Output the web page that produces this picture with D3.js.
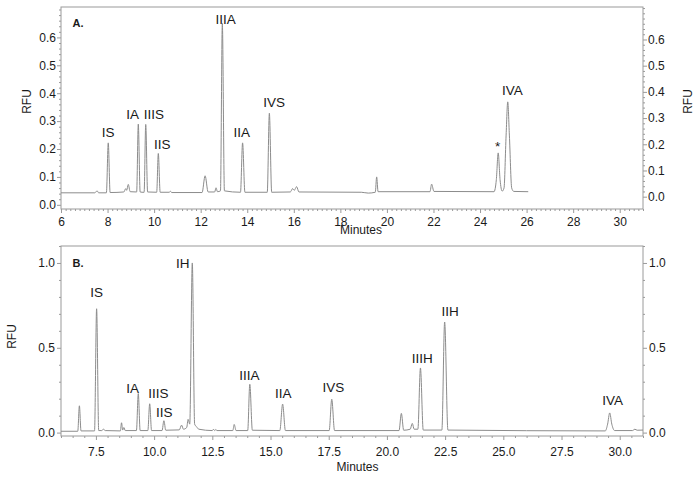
<!DOCTYPE html>
<html>
<head>
<meta charset="utf-8">
<script src="https://cdn.jsdelivr.net/npm/d3@7"></script>
<style>
  body { margin: 0; background: #fff; }
  text { font-family: "Liberation Sans", Arial, sans-serif; }
</style>
</head>
<body>
<svg id="chrom"></svg>
<script>
// ---- panel A trace (minutes, RFU) ----
const timeA = [6.0, 7.45, 7.55, 7.62, 7.95, 8.03, 8.11, 8.70, 8.78, 8.82, 8.89, 8.97,
  9.25, 9.32, 9.40, 9.48, 9.57, 9.64, 9.72, 10.11, 10.18, 10.26, 10.65, 10.70, 10.75,
  12.06, 12.19, 12.32, 12.60, 12.66, 12.72, 12.85, 12.93, 13.02, 13.71, 13.80, 13.90,
  14.86, 14.95, 15.05, 15.85, 15.95, 16.02, 16.12, 16.22, 18.9, 19.2, 19.5, 19.56, 19.62,
  21.85, 21.92, 22.02, 24.60, 24.70, 24.78, 24.86, 24.95, 25.03, 25.12, 25.19, 25.26, 25.36, 25.45, 26.07];
const rfuA = [0.043, 0.043, 0.050, 0.043, 0.043, 0.222, 0.044, 0.046, 0.058, 0.052, 0.073, 0.047,
  0.046, 0.289, 0.046, 0.045, 0.045, 0.288, 0.046, 0.045, 0.184, 0.045, 0.045, 0.049, 0.044,
  0.044, 0.104, 0.046, 0.046, 0.061, 0.047, 0.050, 0.650, 0.050, 0.045, 0.222, 0.045,
  0.045, 0.328, 0.045, 0.046, 0.058, 0.052, 0.065, 0.046, 0.045, 0.042, 0.045, 0.100, 0.047,
  0.047, 0.074, 0.048, 0.047, 0.090, 0.186, 0.090, 0.049, 0.060, 0.250, 0.369, 0.250, 0.060, 0.048, 0.047];

// ---- panel B trace ----
const timeB = [6.0, 6.72, 6.79, 6.86, 7.44, 7.53, 7.62, 7.75, 7.82, 7.90, 8.55, 8.60, 8.65, 8.70, 8.76,
  9.24, 9.32, 9.40, 9.73, 9.81, 9.89, 10.34, 10.42, 10.50, 11.08, 11.18, 11.26, 11.40, 11.46,
  11.53, 11.64, 11.74, 11.82, 11.92, 12.50, 12.55, 12.60, 12.65, 12.70, 13.38, 13.44, 13.52,
  14.02, 14.11, 14.22, 15.40, 15.52, 15.64, 17.52, 17.63, 17.75, 20.52, 20.62, 20.72,
  21.00, 21.09, 21.17, 21.33, 21.44, 21.56, 22.36, 22.48, 22.62, 29.38, 29.48, 29.57, 29.66, 29.78,
  30.55, 30.65, 30.75, 31.0];
const rfuB = [0.008, 0.008, 0.158, 0.010, 0.010, 0.730, 0.012, 0.012, 0.020, 0.012, 0.010, 0.058, 0.015, 0.030, 0.012,
  0.012, 0.230, 0.012, 0.012, 0.170, 0.012, 0.012, 0.070, 0.014, 0.016, 0.044, 0.020, 0.030, 0.078,
  0.050, 1.000, 0.050, 0.035, 0.020, 0.012, 0.020, 0.012, 0.018, 0.012, 0.012, 0.048, 0.012,
  0.012, 0.285, 0.014, 0.012, 0.168, 0.012, 0.012, 0.197, 0.012, 0.012, 0.113, 0.014,
  0.020, 0.054, 0.020, 0.020, 0.381, 0.015, 0.015, 0.652, 0.015, 0.010, 0.050, 0.116, 0.050, 0.012,
  0.012, 0.020, 0.014, 0.015];

// ---- peak labels (name, minutes, RFU of label baseline) ----
const labelA = ["IS", "IA", "IIIS", "IIS", "IIIA", "IIA", "IVS", "*", "IVA"];
const labelTimeA = [8.02, 9.08, 9.99, 10.35, 13.07, 13.76, 15.15, 24.76, 25.39];
const labelRfuA = [0.244, 0.306, 0.306, 0.200, 0.648, 0.244, 0.349, 0.194, 0.394];

const labelB = ["IS", "IA", "IIIS", "IIS", "IH", "IIIA", "IIA", "IVS", "IIIH", "IIH", "IVA"];
const labelTimeB = [7.53, 9.08, 10.18, 10.44, 11.23, 14.09, 15.55, 17.70, 21.52, 22.71, 29.70];
const labelRfuB = [0.798, 0.235, 0.202, 0.094, 0.969, 0.310, 0.202, 0.238, 0.409, 0.688, 0.163];

// ---- ticks ----
const ticksAx = [6, 8, 10, 12, 14, 16, 18, 20, 22, 24, 26, 28, 30];
const ticksAy = [0.0, 0.1, 0.2, 0.3, 0.4, 0.5, 0.6];
const ticksBx = [7.5, 10.0, 12.5, 15.0, 17.5, 20.0, 22.5, 25.0, 27.5, 30.0];
const ticksBy = [0.0, 0.5, 1.0];

const width = 697, height = 478;
const axisColor = "#9a9a9a", traceColor = "#8c8c8c", textColor = "#1a1a1a";

const svg = d3.select("#chrom").attr("width", width).attr("height", height);

function minors(lo, hi, step, majors)
{
    return d3.range(Math.round(lo / step), Math.round(hi / step) + 1)
        .map(i => +(i * step).toFixed(4))
        .filter(v => !majors.some(m => Math.abs(m - v) < 1e-6));
}

function styleAxis(g, size)
{
    g.select(".domain").remove();
    g.selectAll("line").attr("stroke", axisColor);
    g.selectAll("text").attr("fill", textColor).style("font-size", size);
}

function drawPanel(opt)
{
    const x = d3.scaleLinear().domain([6, 31]).range([61, 643]);
    const y = d3.scaleLinear().domain(opt.yDomain).range([opt.bottom, opt.top]);
    const g = svg.append("g");

    // x axis
    g.append("g").attr("transform", `translate(0,${opt.bottom})`)
        .call(d3.axisBottom(x).tickValues(minors(6, 31, opt.xMinor, opt.xTicks)).tickSize(2).tickFormat(""))
        .call(a => styleAxis(a, "12px"));
    g.append("g").attr("transform", `translate(0,${opt.bottom})`)
        .call(d3.axisBottom(x).tickValues(opt.xTicks).tickSize(4).tickPadding(opt.xPad).tickFormat(d3.format(opt.xFmt)))
        .call(a => styleAxis(a, "12px"));

    // left axis
    g.append("g").attr("transform", "translate(61,0)")
        .call(d3.axisLeft(y).tickValues(minors(0, opt.yDomain[1], opt.yMinor, opt.yTicks)).tickSize(2).tickFormat(""))
        .call(a => styleAxis(a, "12px"));
    g.append("g").attr("transform", "translate(61,0)")
        .call(d3.axisLeft(y).tickValues(opt.yTicks).tickSize(4).tickPadding(opt.yPadL).tickFormat(d3.format(".1f")))
        .call(a => styleAxis(a, "12px"));

    // right axis
    const yR = d3.scaleLinear().domain(opt.yRDomain).range([opt.bottom, opt.top]);
    g.append("g").attr("transform", "translate(643,0)")
        .call(d3.axisRight(yR).tickValues(minors(0, opt.yRDomain[1], opt.yMinor, opt.yTicks)).tickSize(2).tickFormat(""))
        .call(a => styleAxis(a, "12px"));
    g.append("g").attr("transform", "translate(643,0)")
        .call(d3.axisRight(yR).tickValues(opt.yTicks).tickSize(4).tickPadding(opt.yPadR).tickFormat(d3.format(".1f")))
        .call(a => styleAxis(a, "12px"));

    // frame
    g.append("rect")
        .attr("x", 61).attr("y", opt.top)
        .attr("width", 643 - 61).attr("height", opt.bottom - opt.top)
        .attr("fill", "none").attr("stroke", axisColor).attr("stroke-width", 1);

    // trace
    const pts = d3.zip(opt.time, opt.rfu);
    g.append("path")
        .datum(pts)
        .attr("fill", "none")
        .attr("stroke", traceColor)
        .attr("stroke-width", 1)
        .attr("d", d3.line().x(d => x(d[0])).y(d => y(d[1])).curve(d3.curveMonotoneX));

    // peak labels
    g.selectAll(".peak")
        .data(d3.zip(opt.labels, opt.labelTime, opt.labelRfu))
        .enter().append("text")
        .attr("class", "peak")
        .attr("x", d => x(d[1]))
        .attr("y", d => y(d[2]))
        .attr("text-anchor", "middle")
        .attr("fill", textColor)
        .style("font-size", "13.5px")
        .text(d => d[0]);

    // panel letter
    g.append("text")
        .attr("x", 72.5).attr("y", opt.letterY)
        .attr("fill", textColor)
        .style("font-size", "11px").style("font-weight", "bold")
        .text(opt.letter);

    // axis titles
    g.append("text")
        .attr("x", opt.minX).attr("y", opt.minY)
        .attr("text-anchor", "middle").attr("fill", textColor)
        .style("font-size", "12px")
        .text("Minutes");

    g.append("text")
        .attr("transform", `translate(${opt.rfuLX},${opt.rfuY}) rotate(-90)`)
        .attr("text-anchor", "middle").attr("fill", textColor)
        .style("font-size", "12px")
        .text("RFU");

    if (opt.rfuRX)
    {
        g.append("text")
            .attr("transform", `translate(${opt.rfuRX},${opt.rfuY}) rotate(-90)`)
            .attr("text-anchor", "middle").attr("fill", textColor)
            .style("font-size", "12px")
            .text("RFU");
    }
}

drawPanel({
    top: 7, bottom: 209,
    yDomain: [-0.015, 0.709], yRDomain: [-0.047, 0.724],
    xTicks: ticksAx, xMinor: 0.2, xFmt: "d", xPad: 4,
    yTicks: ticksAy, yMinor: 0.02, yPadL: 1, yPadR: 1,
    time: timeA, rfu: rfuA,
    labels: labelA, labelTime: labelTimeA, labelRfu: labelRfuA,
    letter: "A.", letterY: 27.3,
    minX: 361, minY: 234,
    rfuLX: 30.5, rfuRX: 691.5, rfuY: 101.5
});

drawPanel({
    top: 246, bottom: 436,
    yDomain: [-0.02, 1.1], yRDomain: [-0.02, 1.1],
    xTicks: ticksBx, xMinor: 0.5, xFmt: ".1f", xPad: 7,
    yTicks: ticksBy, yMinor: 0.1, yPadL: 2, yPadR: 2,
    time: timeB, rfu: rfuB,
    labels: labelB, labelTime: labelTimeB, labelRfu: labelRfuB,
    letter: "B.", letterY: 266.7,
    minX: 357.5, minY: 471,
    rfuLX: 16.3, rfuRX: null, rfuY: 336.5
});
</script>
</body>
</html>
